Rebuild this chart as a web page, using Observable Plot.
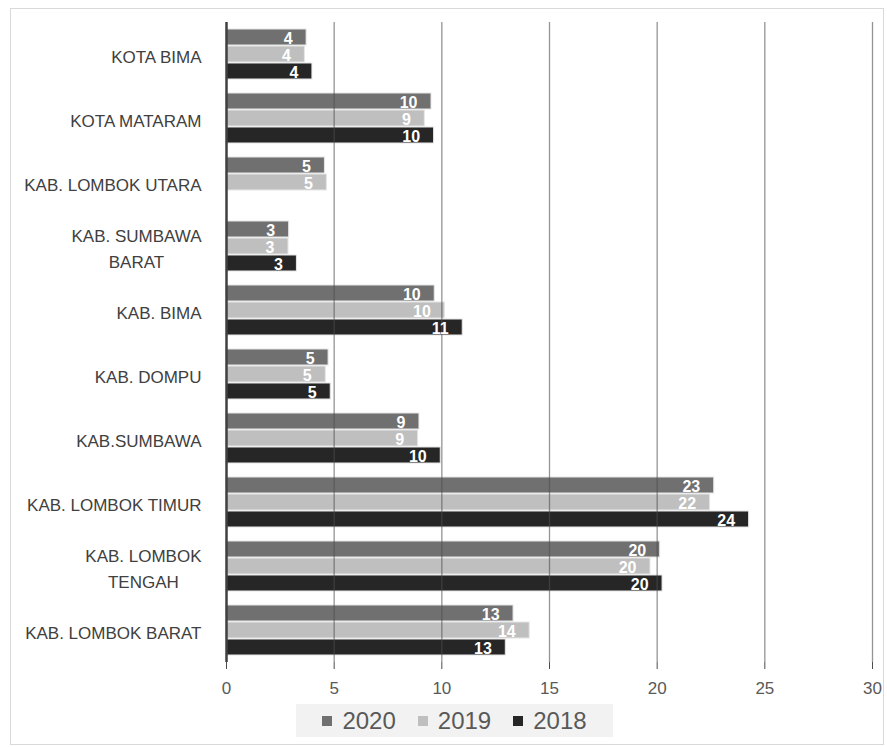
<!DOCTYPE html>
<html><head><meta charset="utf-8">
<script src="https://cdn.jsdelivr.net/npm/d3@7"></script>
<script src="https://cdn.jsdelivr.net/npm/@observablehq/plot@0.6"></script>
<style>
body{margin:0;background:#fff;font-family:"Liberation Sans",Arial,sans-serif;}
#wrap{position:relative;width:887px;height:747px;overflow:hidden;}
#frame{position:absolute;left:10px;top:8px;width:874px;height:737px;border:1px solid #d9d9d9;box-sizing:border-box;}
#chart{position:absolute;left:0;top:0;}
#legend{position:absolute;left:296px;top:704px;width:317px;height:33px;background:#f2f2f2;display:flex;align-items:center;justify-content:center;gap:22px;color:#595959;font-size:24px;}
#legend span.item{display:flex;align-items:center;gap:10px;}
#legend span.sw{display:inline-block;width:10px;height:10px;}
</style></head>
<body>
<div id="wrap"><div id="frame"></div><div id="chart"></div><div id="legend"></div></div>
<script>
const categories = ["KOTA BIMA","KOTA MATARAM","KAB. LOMBOK UTARA","KAB. SUMBAWA\nBARAT","KAB. BIMA","KAB. DOMPU","KAB.SUMBAWA","KAB. LOMBOK TIMUR","KAB. LOMBOK\nTENGAH","KAB. LOMBOK BARAT"];
const seriesNames = ["2020","2019","2018"];
const seriesColors = ["#707070","#bfbfbf","#262626"];
const values2020 = [3.72, 9.52, 4.57, 2.91, 9.67, 4.74, 8.96, 22.65, 20.14, 13.33];
const values2019 = [3.64, 9.21, 4.66, 2.88, 10.14, 4.61, 8.90, 22.46, 19.69, 14.08];
const values2018 = [3.99, 9.64, null, 3.27, 10.97, 4.84, 9.95, 24.27, 20.25, 12.97];
const xTicks = [0,5,10,15,20,25,30];

const seriesValues = [values2020, values2019, values2018];
const data = [];
categories.forEach((c, i) => seriesNames.forEach((s, j) => {
  const v = seriesValues[j][i];
  if (v != null) data.push({category: c, series: s, value: v});
}));

const font = "'Liberation Sans', Arial, sans-serif";
const chart = Plot.plot({
  width: 887, height: 705,
  marginLeft: 226, marginRight: 15, marginTop: 20, marginBottom: 41,
  style: {fontFamily: font, background: "transparent"},
  x: {domain: [0, 30], ticks: xTicks},
  fy: {domain: categories, padding: 0},
  y: {domain: seriesNames, paddingInner: 0.05, paddingOuter: 0.32, axis: null},
  color: {domain: seriesNames, range: seriesColors},
  marks: [
    Plot.barX(data, {fy: "category", y: "series", x: "value", fill: "series", stroke: "#e6e6e6", strokeWidth: 1}),
    Plot.gridX({ticks: xTicks.slice(1), stroke: "#4d4d4d", strokeOpacity: 0.6, strokeWidth: 1.3}),
    Plot.ruleX([0], {stroke: "#404040", strokeWidth: 2.5}),
    Plot.text(data, {fy: "category", y: "series", x: "value", text: d => d3.format(".0f")(d.value),
      textAnchor: "end", dx: -14, dy: 1, fill: "white", fontWeight: "bold", fontSize: 16, fontFamily: font}),
    Plot.axisX({ticks: xTicks, tickSize: 7, tickPadding: 12, fontSize: 17, stroke: "#4d4d4d", color: "#595959", label: null}),
    Plot.axisFy({anchor: "left", label: null, tickSize: 0, tickPadding: 25, fontSize: 17, color: "#404040", lineHeight: 1.55})
  ]
});
document.getElementById("chart").appendChild(chart);

// center multi-line category labels within their block
chart.querySelectorAll('g[aria-label="fy-axis tick label"] text').forEach(t => {
  const spans = Array.from(t.querySelectorAll("tspan"));
  if (spans.length > 1) {
    const w = spans.map(s => s.getComputedTextLength());
    const W = Math.max(...w);
    spans.forEach((s, i) => s.setAttribute("x", -(W - w[i]) / 2));
  }
});

const legend = document.getElementById("legend");
seriesNames.forEach((s, j) => {
  const item = document.createElement("span");
  item.className = "item";
  const sw = document.createElement("span");
  sw.className = "sw"; sw.style.background = seriesColors[j];
  const tx = document.createElement("span");
  tx.textContent = s;
  item.appendChild(sw); item.appendChild(tx);
  legend.appendChild(item);
});
</script>
</body></html>
